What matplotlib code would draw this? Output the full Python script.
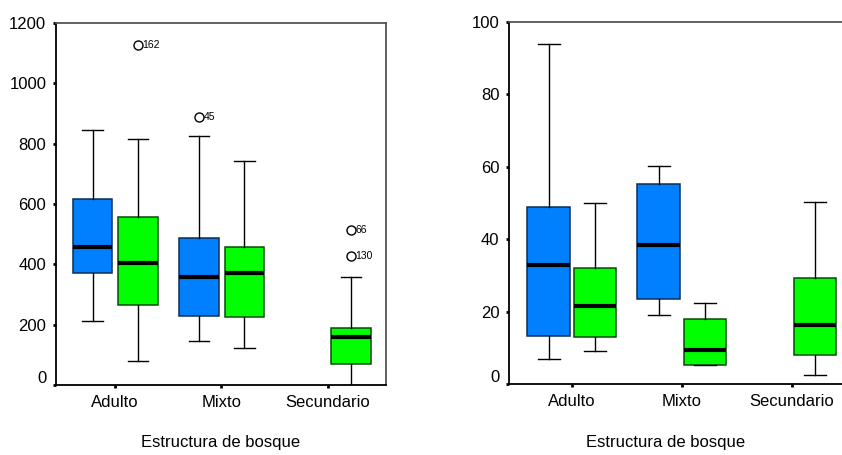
import matplotlib
matplotlib.use("Agg")
import matplotlib.pyplot as plt
import matplotlib.transforms as mtransforms

plt.rcParams['font.family'] = ['Liberation Sans', 'DejaVu Sans']

categories = ["Adulto", "Mixto", "Secundario"]
xlabel = "Estructura de bosque"

# Left panel (values per category; None = no data)
left_blue_whislo = [212, 147, None]
left_blue_q1     = [370, 229, None]
left_blue_med    = [459, 359, None]
left_blue_q3     = [617, 487, None]
left_blue_whishi = [846, 824, None]
left_blue_fliers = [[], [890], []]
left_blue_flier_ids = [[], ["45"], []]

left_green_whislo = [78, 124, 0]
left_green_q1     = [264, 224, 70]
left_green_med    = [406, 370, 158]
left_green_q3     = [556, 456, 188]
left_green_whishi = [815, 741, 359]
left_green_fliers = [[1126], [], [514, 426]]
left_green_flier_ids = [["162"], [], ["66", "130"]]

# Right panel
right_blue_whislo = [6.9, 19.0, None]
right_blue_q1     = [13.3, 23.6, None]
right_blue_med    = [32.8, 38.4, None]
right_blue_q3     = [49.0, 55.2, None]
right_blue_whishi = [93.8, 60.1, None]

right_green_whislo = [9.0, 5.2, 2.6]
right_green_q1     = [13.0, 5.2, 8.1]
right_green_med    = [21.6, 9.3, 16.2]
right_green_q3     = [32.0, 17.9, 29.2]
right_green_whishi = [50.0, 22.5, 50.4]

BLUE = "#0080FF"
BLUE_EDGE = "#0d2d55"
GREEN = "#00FF00"
GREEN_EDGE = "#0b4a0b"


def make_stats(whislo, q1, med, q3, whishi, fliers=None):
    stats, idx = [], []
    for i in range(len(med)):
        if med[i] is None:
            continue
        stats.append(dict(whislo=whislo[i], q1=q1[i], med=med[i], q3=q3[i],
                          whishi=whishi[i],
                          fliers=(fliers[i] if fliers else [])))
        idx.append(i)
    return stats, idx


def draw(ax, stats, idx, offset, width, face, edge, ids=None):
    pos = [i + 1 + offset for i in idx]
    ax.bxp(stats, positions=pos, widths=width, patch_artist=True,
           showfliers=True, capwidths=width * 0.52,
           boxprops=dict(facecolor=face, edgecolor=edge, linewidth=1.1),
           medianprops=dict(color="black", linewidth=3, solid_capstyle="butt"),
           whiskerprops=dict(color="black", linewidth=1),
           capprops=dict(color="black", linewidth=1),
           flierprops=dict(marker="o", markerfacecolor="none",
                           markeredgecolor="black", markersize=6.5,
                           markeredgewidth=1))
    if ids:
        for s, i, p in zip(stats, idx, pos):
            for v, lab in zip(s["fliers"], ids[i]):
                ax.annotate(lab, (p, v), xytext=(3.0, 0),
                            textcoords="offset points", va="center",
                            ha="left", fontsize=7.5)


def style(ax, ylim, yticks, xlim):
    ax.set_xlim(*xlim)
    ax.set_ylim(*ylim)
    ax.set_yticks(yticks)
    ax.set_xticks([1, 2, 3])
    ax.set_xticklabels(categories)
    ax.tick_params(direction="out", length=2.5, width=2, labelsize=12,
                   pad=4.5)
    for s in ("left", "bottom"):
        ax.spines[s].set_color("black")
        ax.spines[s].set_linewidth(1.3)
    for s in ("top", "right"):
        ax.spines[s].set_color("#555555")
        ax.spines[s].set_linewidth(1.3)
    # the zero label sits slightly above its tick, as in the reference
    lab0 = ax.yaxis.get_major_ticks()[0].label1
    lab0.set_transform(lab0.get_transform() + mtransforms.ScaledTranslation(
        0, 8 / 100, ax.figure.dpi_scale_trans))


fig = plt.figure(figsize=(8.42, 4.55), dpi=100)

ax1 = fig.add_axes([56 / 842, 70 / 455, 330 / 842, 362 / 455])
st, ix = make_stats(left_blue_whislo, left_blue_q1, left_blue_med,
                    left_blue_q3, left_blue_whishi, left_blue_fliers)
draw(ax1, st, ix, -0.21, 0.37, BLUE, BLUE_EDGE, left_blue_flier_ids)
st, ix = make_stats(left_green_whislo, left_green_q1, left_green_med,
                    left_green_q3, left_green_whishi, left_green_fliers)
draw(ax1, st, ix, 0.215, 0.37, GREEN, GREEN_EDGE, left_green_flier_ids)
style(ax1, (0, 1200), [0, 200, 400, 600, 800, 1000, 1200], (0.446, 3.545))

ax2 = fig.add_axes([509 / 842, 71 / 455, 343 / 842, 362 / 455])
st, ix = make_stats(right_blue_whislo, right_blue_q1, right_blue_med,
                    right_blue_q3, right_blue_whishi)
draw(ax2, st, ix, -0.21, 0.385, BLUE, BLUE_EDGE)
st, ix = make_stats(right_green_whislo, right_green_q1, right_green_med,
                    right_green_q3, right_green_whishi)
draw(ax2, st, ix, 0.215, 0.385, GREEN, GREEN_EDGE)
style(ax2, (0, 100), [0, 20, 40, 60, 80, 100], (0.43, 3.55))
ax2.spines["right"].set_visible(False)

fig.text(221 / 842, 1 - 443 / 455, xlabel, ha="center", va="center",
         fontsize=12)
fig.text(666 / 842, 1 - 443 / 455, xlabel, ha="center", va="center",
         fontsize=12)

fig.savefig("out.png", dpi=100)
